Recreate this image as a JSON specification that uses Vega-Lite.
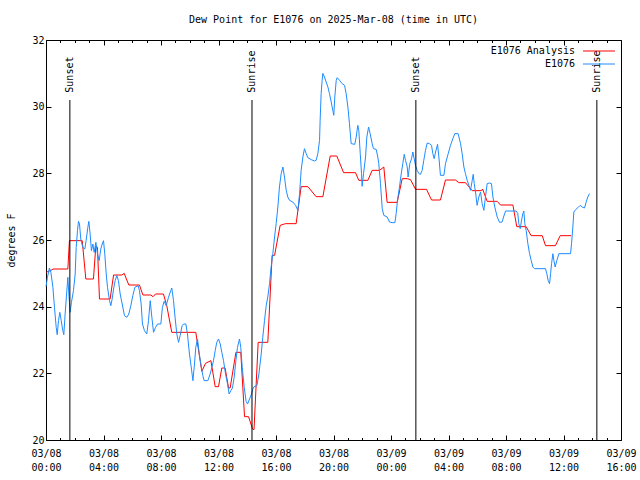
{
  "$schema": "https://vega.github.io/schema/vega-lite/v6.json",
  "width": 575,
  "height": 400,
  "autosize": {"type": "none"},
  "padding": {"left": 46, "top": 40, "right": 19, "bottom": 40},
  "background": "white",
  "config": {
    "view": {"stroke": "black", "strokeWidth": 1},
    "font": "DejaVu Sans Mono",
    "axis": {"domain": false, "grid": false, "tickColor": "black", "labelColor": "black", "labelFont": "DejaVu Sans Mono", "labelFontSize": 10, "titleFont": "DejaVu Sans Mono", "titleFontSize": 10, "titleFontWeight": "normal", "titleColor": "black", "labelFlush": false, "labelOverlap": false, "labelBound": false}
  },
  "title": {"text": "Dew Point for E1076 on 2025-Mar-08 (time in UTC)", "font": "DejaVu Sans Mono", "fontSize": 10, "fontWeight": "normal", "color": "black", "offset": 10, "anchor": "middle"},
  "datasets": {
    "obs": [
      {"hour": 0.0, "dewpoint": 25.03, "series": "E1076 Analysis"},
      {"hour": 0.3, "dewpoint": 25.08, "series": "E1076 Analysis"},
      {"hour": 0.5, "dewpoint": 25.13, "series": "E1076 Analysis"},
      {"hour": 1.52, "dewpoint": 25.13, "series": "E1076 Analysis"},
      {"hour": 1.63, "dewpoint": 25.98, "series": "E1076 Analysis"},
      {"hour": 2.52, "dewpoint": 25.98, "series": "E1076 Analysis"},
      {"hour": 2.77, "dewpoint": 24.83, "series": "E1076 Analysis"},
      {"hour": 3.3, "dewpoint": 24.83, "series": "E1076 Analysis"},
      {"hour": 3.47, "dewpoint": 25.83, "series": "E1076 Analysis"},
      {"hour": 3.58, "dewpoint": 25.78, "series": "E1076 Analysis"},
      {"hour": 3.72, "dewpoint": 24.23, "series": "E1076 Analysis"},
      {"hour": 4.46, "dewpoint": 24.23, "series": "E1076 Analysis"},
      {"hour": 4.7, "dewpoint": 24.95, "series": "E1076 Analysis"},
      {"hour": 5.28, "dewpoint": 24.95, "series": "E1076 Analysis"},
      {"hour": 5.44, "dewpoint": 25.0, "series": "E1076 Analysis"},
      {"hour": 5.76, "dewpoint": 24.65, "series": "E1076 Analysis"},
      {"hour": 6.5, "dewpoint": 24.65, "series": "E1076 Analysis"},
      {"hour": 6.74, "dewpoint": 24.35, "series": "E1076 Analysis"},
      {"hour": 7.29, "dewpoint": 24.35, "series": "E1076 Analysis"},
      {"hour": 7.45, "dewpoint": 24.3, "series": "E1076 Analysis"},
      {"hour": 7.62, "dewpoint": 24.38, "series": "E1076 Analysis"},
      {"hour": 8.17, "dewpoint": 24.38, "series": "E1076 Analysis"},
      {"hour": 8.4, "dewpoint": 24.03, "series": "E1076 Analysis"},
      {"hour": 8.75, "dewpoint": 23.23, "series": "E1076 Analysis"},
      {"hour": 10.42, "dewpoint": 23.23, "series": "E1076 Analysis"},
      {"hour": 10.84, "dewpoint": 22.06, "series": "E1076 Analysis"},
      {"hour": 11.1, "dewpoint": 22.3, "series": "E1076 Analysis"},
      {"hour": 11.47, "dewpoint": 22.38, "series": "E1076 Analysis"},
      {"hour": 11.77, "dewpoint": 21.6, "series": "E1076 Analysis"},
      {"hour": 12.0, "dewpoint": 21.6, "series": "E1076 Analysis"},
      {"hour": 12.23, "dewpoint": 22.16, "series": "E1076 Analysis"},
      {"hour": 12.46, "dewpoint": 22.16, "series": "E1076 Analysis"},
      {"hour": 12.7, "dewpoint": 21.56, "series": "E1076 Analysis"},
      {"hour": 12.81, "dewpoint": 21.56, "series": "E1076 Analysis"},
      {"hour": 13.21, "dewpoint": 22.63, "series": "E1076 Analysis"},
      {"hour": 13.55, "dewpoint": 22.63, "series": "E1076 Analysis"},
      {"hour": 13.81, "dewpoint": 20.7, "series": "E1076 Analysis"},
      {"hour": 14.09, "dewpoint": 20.7, "series": "E1076 Analysis"},
      {"hour": 14.37, "dewpoint": 20.33, "series": "E1076 Analysis"},
      {"hour": 14.47, "dewpoint": 20.31, "series": "E1076 Analysis"},
      {"hour": 14.76, "dewpoint": 22.93, "series": "E1076 Analysis"},
      {"hour": 15.43, "dewpoint": 22.93, "series": "E1076 Analysis"},
      {"hour": 15.73, "dewpoint": 25.54, "series": "E1076 Analysis"},
      {"hour": 15.9, "dewpoint": 25.54, "series": "E1076 Analysis"},
      {"hour": 16.29, "dewpoint": 26.44, "series": "E1076 Analysis"},
      {"hour": 16.66, "dewpoint": 26.49, "series": "E1076 Analysis"},
      {"hour": 17.4, "dewpoint": 26.49, "series": "E1076 Analysis"},
      {"hour": 17.75, "dewpoint": 27.6, "series": "E1076 Analysis"},
      {"hour": 18.22, "dewpoint": 27.6, "series": "E1076 Analysis"},
      {"hour": 18.79, "dewpoint": 27.3, "series": "E1076 Analysis"},
      {"hour": 19.26, "dewpoint": 27.3, "series": "E1076 Analysis"},
      {"hour": 19.77, "dewpoint": 28.52, "series": "E1076 Analysis"},
      {"hour": 20.23, "dewpoint": 28.52, "series": "E1076 Analysis"},
      {"hour": 20.7, "dewpoint": 28.02, "series": "E1076 Analysis"},
      {"hour": 21.53, "dewpoint": 28.02, "series": "E1076 Analysis"},
      {"hour": 21.76, "dewpoint": 27.79, "series": "E1076 Analysis"},
      {"hour": 22.39, "dewpoint": 27.79, "series": "E1076 Analysis"},
      {"hour": 22.69, "dewpoint": 28.09, "series": "E1076 Analysis"},
      {"hour": 23.2, "dewpoint": 28.09, "series": "E1076 Analysis"},
      {"hour": 23.5, "dewpoint": 28.19, "series": "E1076 Analysis"},
      {"hour": 23.73, "dewpoint": 27.13, "series": "E1076 Analysis"},
      {"hour": 24.43, "dewpoint": 27.13, "series": "E1076 Analysis"},
      {"hour": 24.78, "dewpoint": 27.84, "series": "E1076 Analysis"},
      {"hour": 25.13, "dewpoint": 27.84, "series": "E1076 Analysis"},
      {"hour": 25.36, "dewpoint": 27.81, "series": "E1076 Analysis"},
      {"hour": 25.71, "dewpoint": 27.52, "series": "E1076 Analysis"},
      {"hour": 26.47, "dewpoint": 27.52, "series": "E1076 Analysis"},
      {"hour": 26.82, "dewpoint": 27.2, "series": "E1076 Analysis"},
      {"hour": 27.44, "dewpoint": 27.2, "series": "E1076 Analysis"},
      {"hour": 27.79, "dewpoint": 27.8, "series": "E1076 Analysis"},
      {"hour": 28.49, "dewpoint": 27.8, "series": "E1076 Analysis"},
      {"hour": 28.72, "dewpoint": 27.72, "series": "E1076 Analysis"},
      {"hour": 29.18, "dewpoint": 27.72, "series": "E1076 Analysis"},
      {"hour": 29.65, "dewpoint": 27.48, "series": "E1076 Analysis"},
      {"hour": 30.3, "dewpoint": 27.48, "series": "E1076 Analysis"},
      {"hour": 30.37, "dewpoint": 27.53, "series": "E1076 Analysis"},
      {"hour": 30.69, "dewpoint": 27.16, "series": "E1076 Analysis"},
      {"hour": 31.39, "dewpoint": 27.16, "series": "E1076 Analysis"},
      {"hour": 31.62, "dewpoint": 27.05, "series": "E1076 Analysis"},
      {"hour": 32.48, "dewpoint": 27.05, "series": "E1076 Analysis"},
      {"hour": 32.75, "dewpoint": 26.4, "series": "E1076 Analysis"},
      {"hour": 33.4, "dewpoint": 26.4, "series": "E1076 Analysis"},
      {"hour": 33.75, "dewpoint": 26.13, "series": "E1076 Analysis"},
      {"hour": 34.52, "dewpoint": 26.13, "series": "E1076 Analysis"},
      {"hour": 34.75, "dewpoint": 25.83, "series": "E1076 Analysis"},
      {"hour": 35.44, "dewpoint": 25.83, "series": "E1076 Analysis"},
      {"hour": 35.77, "dewpoint": 26.13, "series": "E1076 Analysis"},
      {"hour": 36.53, "dewpoint": 26.13, "series": "E1076 Analysis"},
      {"hour": 0.0, "dewpoint": 24.6, "series": "E1076"},
      {"hour": 0.1, "dewpoint": 24.88, "series": "E1076"},
      {"hour": 0.24, "dewpoint": 25.16, "series": "E1076"},
      {"hour": 0.34, "dewpoint": 25.03, "series": "E1076"},
      {"hour": 0.48, "dewpoint": 24.58, "series": "E1076"},
      {"hour": 0.59, "dewpoint": 23.98, "series": "E1076"},
      {"hour": 0.71, "dewpoint": 23.38, "series": "E1076"},
      {"hour": 0.78, "dewpoint": 23.16, "series": "E1076"},
      {"hour": 0.87, "dewpoint": 23.58, "series": "E1076"},
      {"hour": 0.96, "dewpoint": 23.83, "series": "E1076"},
      {"hour": 1.06, "dewpoint": 23.58, "series": "E1076"},
      {"hour": 1.15, "dewpoint": 23.33, "series": "E1076"},
      {"hour": 1.24, "dewpoint": 23.16, "series": "E1076"},
      {"hour": 1.33, "dewpoint": 23.78, "series": "E1076"},
      {"hour": 1.45, "dewpoint": 24.48, "series": "E1076"},
      {"hour": 1.52, "dewpoint": 24.88, "series": "E1076"},
      {"hour": 1.59, "dewpoint": 24.38, "series": "E1076"},
      {"hour": 1.68, "dewpoint": 23.83, "series": "E1076"},
      {"hour": 1.77, "dewpoint": 24.13, "series": "E1076"},
      {"hour": 1.91, "dewpoint": 24.48, "series": "E1076"},
      {"hour": 2.03, "dewpoint": 24.98, "series": "E1076"},
      {"hour": 2.1, "dewpoint": 25.78, "series": "E1076"},
      {"hour": 2.19, "dewpoint": 26.28, "series": "E1076"},
      {"hour": 2.26, "dewpoint": 26.56, "series": "E1076"},
      {"hour": 2.33, "dewpoint": 26.48, "series": "E1076"},
      {"hour": 2.42, "dewpoint": 26.03, "series": "E1076"},
      {"hour": 2.56, "dewpoint": 25.78, "series": "E1076"},
      {"hour": 2.7, "dewpoint": 25.73, "series": "E1076"},
      {"hour": 2.79, "dewpoint": 25.98, "series": "E1076"},
      {"hour": 2.91, "dewpoint": 26.38, "series": "E1076"},
      {"hour": 2.98, "dewpoint": 26.56, "series": "E1076"},
      {"hour": 3.07, "dewpoint": 26.18, "series": "E1076"},
      {"hour": 3.16, "dewpoint": 25.68, "series": "E1076"},
      {"hour": 3.26, "dewpoint": 25.88, "series": "E1076"},
      {"hour": 3.35, "dewpoint": 25.63, "series": "E1076"},
      {"hour": 3.47, "dewpoint": 25.93, "series": "E1076"},
      {"hour": 3.58, "dewpoint": 25.58, "series": "E1076"},
      {"hour": 3.7, "dewpoint": 25.38, "series": "E1076"},
      {"hour": 3.81, "dewpoint": 25.73, "series": "E1076"},
      {"hour": 3.91, "dewpoint": 25.88, "series": "E1076"},
      {"hour": 4.0, "dewpoint": 25.98, "series": "E1076"},
      {"hour": 4.09, "dewpoint": 25.58, "series": "E1076"},
      {"hour": 4.19, "dewpoint": 24.98, "series": "E1076"},
      {"hour": 4.28, "dewpoint": 24.58, "series": "E1076"},
      {"hour": 4.42, "dewpoint": 24.18, "series": "E1076"},
      {"hour": 4.51, "dewpoint": 24.03, "series": "E1076"},
      {"hour": 4.6, "dewpoint": 24.23, "series": "E1076"},
      {"hour": 4.7, "dewpoint": 24.53, "series": "E1076"},
      {"hour": 4.81, "dewpoint": 24.78, "series": "E1076"},
      {"hour": 4.93, "dewpoint": 24.93, "series": "E1076"},
      {"hour": 5.04, "dewpoint": 24.78, "series": "E1076"},
      {"hour": 5.16, "dewpoint": 24.38, "series": "E1076"},
      {"hour": 5.3, "dewpoint": 24.08, "series": "E1076"},
      {"hour": 5.46, "dewpoint": 23.73, "series": "E1076"},
      {"hour": 5.62, "dewpoint": 23.68, "series": "E1076"},
      {"hour": 5.76, "dewpoint": 23.78, "series": "E1076"},
      {"hour": 5.9, "dewpoint": 24.03, "series": "E1076"},
      {"hour": 6.04, "dewpoint": 24.33, "series": "E1076"},
      {"hour": 6.18, "dewpoint": 24.58, "series": "E1076"},
      {"hour": 6.41, "dewpoint": 24.63, "series": "E1076"},
      {"hour": 6.5, "dewpoint": 24.48, "series": "E1076"},
      {"hour": 6.62, "dewpoint": 24.08, "series": "E1076"},
      {"hour": 6.71, "dewpoint": 23.48, "series": "E1076"},
      {"hour": 6.85, "dewpoint": 23.28, "series": "E1076"},
      {"hour": 7.01, "dewpoint": 23.18, "series": "E1076"},
      {"hour": 7.13, "dewpoint": 23.58, "series": "E1076"},
      {"hour": 7.25, "dewpoint": 24.18, "series": "E1076"},
      {"hour": 7.34, "dewpoint": 23.78, "series": "E1076"},
      {"hour": 7.48, "dewpoint": 23.23, "series": "E1076"},
      {"hour": 7.62, "dewpoint": 23.38, "series": "E1076"},
      {"hour": 7.76, "dewpoint": 23.48, "series": "E1076"},
      {"hour": 7.99, "dewpoint": 23.48, "series": "E1076"},
      {"hour": 8.1, "dewpoint": 23.98, "series": "E1076"},
      {"hour": 8.22, "dewpoint": 24.16, "series": "E1076"},
      {"hour": 8.36, "dewpoint": 24.03, "series": "E1076"},
      {"hour": 8.52, "dewpoint": 24.28, "series": "E1076"},
      {"hour": 8.68, "dewpoint": 24.48, "series": "E1076"},
      {"hour": 8.75, "dewpoint": 24.56, "series": "E1076"},
      {"hour": 8.87, "dewpoint": 24.18, "series": "E1076"},
      {"hour": 8.99, "dewpoint": 23.63, "series": "E1076"},
      {"hour": 9.1, "dewpoint": 23.18, "series": "E1076"},
      {"hour": 9.22, "dewpoint": 22.93, "series": "E1076"},
      {"hour": 9.33, "dewpoint": 23.13, "series": "E1076"},
      {"hour": 9.47, "dewpoint": 23.43, "series": "E1076"},
      {"hour": 9.57, "dewpoint": 23.48, "series": "E1076"},
      {"hour": 9.73, "dewpoint": 23.48, "series": "E1076"},
      {"hour": 9.84, "dewpoint": 23.18, "series": "E1076"},
      {"hour": 9.98, "dewpoint": 22.58, "series": "E1076"},
      {"hour": 10.12, "dewpoint": 22.13, "series": "E1076"},
      {"hour": 10.22, "dewpoint": 21.78, "series": "E1076"},
      {"hour": 10.33, "dewpoint": 22.28, "series": "E1076"},
      {"hour": 10.42, "dewpoint": 22.78, "series": "E1076"},
      {"hour": 10.54, "dewpoint": 23.03, "series": "E1076"},
      {"hour": 10.65, "dewpoint": 22.63, "series": "E1076"},
      {"hour": 10.77, "dewpoint": 22.28, "series": "E1076"},
      {"hour": 10.91, "dewpoint": 21.93, "series": "E1076"},
      {"hour": 11.0, "dewpoint": 21.78, "series": "E1076"},
      {"hour": 11.26, "dewpoint": 21.78, "series": "E1076"},
      {"hour": 11.42, "dewpoint": 21.98, "series": "E1076"},
      {"hour": 11.54, "dewpoint": 22.18, "series": "E1076"},
      {"hour": 11.65, "dewpoint": 22.38, "series": "E1076"},
      {"hour": 11.77, "dewpoint": 22.68, "series": "E1076"},
      {"hour": 11.88, "dewpoint": 22.93, "series": "E1076"},
      {"hour": 12.0, "dewpoint": 23.03, "series": "E1076"},
      {"hour": 12.12, "dewpoint": 22.88, "series": "E1076"},
      {"hour": 12.23, "dewpoint": 22.63, "series": "E1076"},
      {"hour": 12.35, "dewpoint": 22.38, "series": "E1076"},
      {"hour": 12.49, "dewpoint": 21.98, "series": "E1076"},
      {"hour": 12.63, "dewpoint": 21.68, "series": "E1076"},
      {"hour": 12.74, "dewpoint": 21.38, "series": "E1076"},
      {"hour": 12.86, "dewpoint": 21.48, "series": "E1076"},
      {"hour": 12.97, "dewpoint": 21.56, "series": "E1076"},
      {"hour": 13.09, "dewpoint": 21.88, "series": "E1076"},
      {"hour": 13.21, "dewpoint": 22.38, "series": "E1076"},
      {"hour": 13.32, "dewpoint": 22.78, "series": "E1076"},
      {"hour": 13.46, "dewpoint": 23.03, "series": "E1076"},
      {"hour": 13.55, "dewpoint": 22.78, "series": "E1076"},
      {"hour": 13.65, "dewpoint": 22.18, "series": "E1076"},
      {"hour": 13.79, "dewpoint": 21.58, "series": "E1076"},
      {"hour": 13.92, "dewpoint": 21.16, "series": "E1076"},
      {"hour": 14.02, "dewpoint": 21.08, "series": "E1076"},
      {"hour": 14.16, "dewpoint": 21.23, "series": "E1076"},
      {"hour": 14.3, "dewpoint": 21.38, "series": "E1076"},
      {"hour": 14.39, "dewpoint": 21.53, "series": "E1076"},
      {"hour": 14.48, "dewpoint": 21.6, "series": "E1076"},
      {"hour": 14.67, "dewpoint": 21.63, "series": "E1076"},
      {"hour": 14.81, "dewpoint": 21.98, "series": "E1076"},
      {"hour": 14.97, "dewpoint": 22.58, "series": "E1076"},
      {"hour": 15.08, "dewpoint": 23.08, "series": "E1076"},
      {"hour": 15.2, "dewpoint": 23.58, "series": "E1076"},
      {"hour": 15.32, "dewpoint": 24.04, "series": "E1076"},
      {"hour": 15.43, "dewpoint": 24.29, "series": "E1076"},
      {"hour": 15.55, "dewpoint": 24.69, "series": "E1076"},
      {"hour": 15.66, "dewpoint": 25.19, "series": "E1076"},
      {"hour": 15.78, "dewpoint": 25.59, "series": "E1076"},
      {"hour": 15.9, "dewpoint": 26.09, "series": "E1076"},
      {"hour": 16.01, "dewpoint": 26.49, "series": "E1076"},
      {"hour": 16.13, "dewpoint": 26.99, "series": "E1076"},
      {"hour": 16.24, "dewpoint": 27.59, "series": "E1076"},
      {"hour": 16.36, "dewpoint": 27.99, "series": "E1076"},
      {"hour": 16.48, "dewpoint": 28.19, "series": "E1076"},
      {"hour": 16.59, "dewpoint": 27.89, "series": "E1076"},
      {"hour": 16.71, "dewpoint": 27.49, "series": "E1076"},
      {"hour": 16.82, "dewpoint": 27.29, "series": "E1076"},
      {"hour": 16.94, "dewpoint": 27.19, "series": "E1076"},
      {"hour": 17.17, "dewpoint": 27.14, "series": "E1076"},
      {"hour": 17.36, "dewpoint": 27.04, "series": "E1076"},
      {"hour": 17.52, "dewpoint": 26.89, "series": "E1076"},
      {"hour": 17.64, "dewpoint": 27.39, "series": "E1076"},
      {"hour": 17.75, "dewpoint": 28.09, "series": "E1076"},
      {"hour": 17.87, "dewpoint": 28.49, "series": "E1076"},
      {"hour": 17.98, "dewpoint": 28.74, "series": "E1076"},
      {"hour": 18.1, "dewpoint": 28.59, "series": "E1076"},
      {"hour": 18.21, "dewpoint": 28.47, "series": "E1076"},
      {"hour": 18.45, "dewpoint": 28.41, "series": "E1076"},
      {"hour": 18.68, "dewpoint": 28.37, "series": "E1076"},
      {"hour": 18.79, "dewpoint": 28.39, "series": "E1076"},
      {"hour": 18.91, "dewpoint": 28.59, "series": "E1076"},
      {"hour": 19.03, "dewpoint": 28.99, "series": "E1076"},
      {"hour": 19.07, "dewpoint": 29.59, "series": "E1076"},
      {"hour": 19.14, "dewpoint": 30.39, "series": "E1076"},
      {"hour": 19.21, "dewpoint": 30.79, "series": "E1076"},
      {"hour": 19.26, "dewpoint": 31.0, "series": "E1076"},
      {"hour": 19.37, "dewpoint": 30.89, "series": "E1076"},
      {"hour": 19.49, "dewpoint": 30.74, "series": "E1076"},
      {"hour": 19.61, "dewpoint": 30.59, "series": "E1076"},
      {"hour": 19.72, "dewpoint": 30.39, "series": "E1076"},
      {"hour": 19.84, "dewpoint": 30.14, "series": "E1076"},
      {"hour": 19.95, "dewpoint": 29.89, "series": "E1076"},
      {"hour": 20.02, "dewpoint": 29.74, "series": "E1076"},
      {"hour": 20.09, "dewpoint": 30.29, "series": "E1076"},
      {"hour": 20.19, "dewpoint": 30.79, "series": "E1076"},
      {"hour": 20.26, "dewpoint": 30.87, "series": "E1076"},
      {"hour": 20.42, "dewpoint": 30.79, "series": "E1076"},
      {"hour": 20.6, "dewpoint": 30.69, "series": "E1076"},
      {"hour": 20.77, "dewpoint": 30.64, "series": "E1076"},
      {"hour": 20.88, "dewpoint": 30.39, "series": "E1076"},
      {"hour": 21.0, "dewpoint": 29.99, "series": "E1076"},
      {"hour": 21.11, "dewpoint": 29.49, "series": "E1076"},
      {"hour": 21.23, "dewpoint": 28.89, "series": "E1076"},
      {"hour": 21.48, "dewpoint": 28.87, "series": "E1076"},
      {"hour": 21.58, "dewpoint": 29.09, "series": "E1076"},
      {"hour": 21.69, "dewpoint": 29.44, "series": "E1076"},
      {"hour": 21.76, "dewpoint": 29.29, "series": "E1076"},
      {"hour": 21.86, "dewpoint": 28.59, "series": "E1076"},
      {"hour": 21.95, "dewpoint": 27.99, "series": "E1076"},
      {"hour": 21.99, "dewpoint": 27.61, "series": "E1076"},
      {"hour": 22.09, "dewpoint": 27.99, "series": "E1076"},
      {"hour": 22.23, "dewpoint": 28.49, "series": "E1076"},
      {"hour": 22.32, "dewpoint": 29.09, "series": "E1076"},
      {"hour": 22.44, "dewpoint": 29.39, "series": "E1076"},
      {"hour": 22.55, "dewpoint": 29.19, "series": "E1076"},
      {"hour": 22.69, "dewpoint": 28.89, "series": "E1076"},
      {"hour": 22.78, "dewpoint": 28.74, "series": "E1076"},
      {"hour": 22.97, "dewpoint": 28.72, "series": "E1076"},
      {"hour": 23.08, "dewpoint": 28.49, "series": "E1076"},
      {"hour": 23.15, "dewpoint": 28.29, "series": "E1076"},
      {"hour": 23.27, "dewpoint": 27.69, "series": "E1076"},
      {"hour": 23.39, "dewpoint": 26.94, "series": "E1076"},
      {"hour": 23.5, "dewpoint": 26.74, "series": "E1076"},
      {"hour": 23.73, "dewpoint": 26.69, "series": "E1076"},
      {"hour": 23.9, "dewpoint": 26.54, "series": "E1076"},
      {"hour": 24.08, "dewpoint": 26.52, "series": "E1076"},
      {"hour": 24.27, "dewpoint": 26.52, "series": "E1076"},
      {"hour": 24.36, "dewpoint": 26.79, "series": "E1076"},
      {"hour": 24.45, "dewpoint": 27.19, "series": "E1076"},
      {"hour": 24.59, "dewpoint": 27.59, "series": "E1076"},
      {"hour": 24.68, "dewpoint": 27.89, "series": "E1076"},
      {"hour": 24.82, "dewpoint": 28.29, "series": "E1076"},
      {"hour": 24.92, "dewpoint": 28.57, "series": "E1076"},
      {"hour": 25.01, "dewpoint": 28.39, "series": "E1076"},
      {"hour": 25.13, "dewpoint": 28.19, "series": "E1076"},
      {"hour": 25.19, "dewpoint": 27.89, "series": "E1076"},
      {"hour": 25.31, "dewpoint": 28.29, "series": "E1076"},
      {"hour": 25.43, "dewpoint": 28.44, "series": "E1076"},
      {"hour": 25.52, "dewpoint": 28.64, "series": "E1076"},
      {"hour": 25.59, "dewpoint": 28.49, "series": "E1076"},
      {"hour": 25.7, "dewpoint": 28.24, "series": "E1076"},
      {"hour": 25.82, "dewpoint": 28.09, "series": "E1076"},
      {"hour": 25.94, "dewpoint": 27.99, "series": "E1076"},
      {"hour": 26.05, "dewpoint": 27.97, "series": "E1076"},
      {"hour": 26.17, "dewpoint": 28.09, "series": "E1076"},
      {"hour": 26.28, "dewpoint": 28.39, "series": "E1076"},
      {"hour": 26.4, "dewpoint": 28.69, "series": "E1076"},
      {"hour": 26.52, "dewpoint": 28.91, "series": "E1076"},
      {"hour": 26.68, "dewpoint": 28.89, "series": "E1076"},
      {"hour": 26.82, "dewpoint": 28.84, "series": "E1076"},
      {"hour": 26.91, "dewpoint": 28.59, "series": "E1076"},
      {"hour": 27.0, "dewpoint": 28.44, "series": "E1076"},
      {"hour": 27.1, "dewpoint": 28.64, "series": "E1076"},
      {"hour": 27.24, "dewpoint": 28.87, "series": "E1076"},
      {"hour": 27.33, "dewpoint": 28.49, "series": "E1076"},
      {"hour": 27.44, "dewpoint": 27.94, "series": "E1076"},
      {"hour": 27.68, "dewpoint": 27.94, "series": "E1076"},
      {"hour": 27.79, "dewpoint": 28.29, "series": "E1076"},
      {"hour": 27.98, "dewpoint": 28.59, "series": "E1076"},
      {"hour": 28.14, "dewpoint": 28.84, "series": "E1076"},
      {"hour": 28.3, "dewpoint": 29.04, "series": "E1076"},
      {"hour": 28.44, "dewpoint": 29.19, "series": "E1076"},
      {"hour": 28.67, "dewpoint": 29.19, "series": "E1076"},
      {"hour": 28.84, "dewpoint": 28.89, "series": "E1076"},
      {"hour": 28.95, "dewpoint": 28.59, "series": "E1076"},
      {"hour": 29.07, "dewpoint": 28.19, "series": "E1076"},
      {"hour": 29.18, "dewpoint": 27.99, "series": "E1076"},
      {"hour": 29.3, "dewpoint": 27.79, "series": "E1076"},
      {"hour": 29.42, "dewpoint": 27.64, "series": "E1076"},
      {"hour": 29.53, "dewpoint": 27.49, "series": "E1076"},
      {"hour": 29.65, "dewpoint": 27.79, "series": "E1076"},
      {"hour": 29.72, "dewpoint": 27.97, "series": "E1076"},
      {"hour": 29.79, "dewpoint": 27.69, "series": "E1076"},
      {"hour": 29.88, "dewpoint": 27.44, "series": "E1076"},
      {"hour": 29.99, "dewpoint": 27.04, "series": "E1076"},
      {"hour": 30.11, "dewpoint": 27.29, "series": "E1076"},
      {"hour": 30.23, "dewpoint": 27.44, "series": "E1076"},
      {"hour": 30.34, "dewpoint": 27.09, "series": "E1076"},
      {"hour": 30.46, "dewpoint": 26.89, "series": "E1076"},
      {"hour": 30.57, "dewpoint": 27.29, "series": "E1076"},
      {"hour": 30.69, "dewpoint": 27.69, "series": "E1076"},
      {"hour": 30.85, "dewpoint": 27.71, "series": "E1076"},
      {"hour": 30.99, "dewpoint": 27.69, "series": "E1076"},
      {"hour": 31.09, "dewpoint": 27.29, "series": "E1076"},
      {"hour": 31.22, "dewpoint": 26.99, "series": "E1076"},
      {"hour": 31.39, "dewpoint": 26.69, "series": "E1076"},
      {"hour": 31.55, "dewpoint": 26.53, "series": "E1076"},
      {"hour": 31.73, "dewpoint": 26.54, "series": "E1076"},
      {"hour": 31.83, "dewpoint": 26.69, "series": "E1076"},
      {"hour": 31.97, "dewpoint": 26.87, "series": "E1076"},
      {"hour": 32.71, "dewpoint": 26.87, "series": "E1076"},
      {"hour": 32.82, "dewpoint": 26.79, "series": "E1076"},
      {"hour": 32.89, "dewpoint": 26.49, "series": "E1076"},
      {"hour": 32.99, "dewpoint": 26.34, "series": "E1076"},
      {"hour": 33.06, "dewpoint": 26.54, "series": "E1076"},
      {"hour": 33.17, "dewpoint": 26.79, "series": "E1076"},
      {"hour": 33.24, "dewpoint": 26.87, "series": "E1076"},
      {"hour": 33.31, "dewpoint": 26.49, "series": "E1076"},
      {"hour": 33.4, "dewpoint": 26.29, "series": "E1076"},
      {"hour": 33.52, "dewpoint": 25.89, "series": "E1076"},
      {"hour": 33.64, "dewpoint": 25.59, "series": "E1076"},
      {"hour": 33.75, "dewpoint": 25.39, "series": "E1076"},
      {"hour": 33.87, "dewpoint": 25.19, "series": "E1076"},
      {"hour": 33.98, "dewpoint": 25.14, "series": "E1076"},
      {"hour": 34.75, "dewpoint": 25.14, "series": "E1076"},
      {"hour": 34.84, "dewpoint": 24.99, "series": "E1076"},
      {"hour": 34.93, "dewpoint": 24.79, "series": "E1076"},
      {"hour": 35.03, "dewpoint": 24.69, "series": "E1076"},
      {"hour": 35.1, "dewpoint": 24.99, "series": "E1076"},
      {"hour": 35.17, "dewpoint": 25.29, "series": "E1076"},
      {"hour": 35.26, "dewpoint": 25.59, "series": "E1076"},
      {"hour": 35.33, "dewpoint": 25.39, "series": "E1076"},
      {"hour": 35.42, "dewpoint": 25.19, "series": "E1076"},
      {"hour": 35.54, "dewpoint": 25.39, "series": "E1076"},
      {"hour": 35.68, "dewpoint": 25.59, "series": "E1076"},
      {"hour": 36.49, "dewpoint": 25.59, "series": "E1076"},
      {"hour": 36.56, "dewpoint": 25.89, "series": "E1076"},
      {"hour": 36.65, "dewpoint": 26.39, "series": "E1076"},
      {"hour": 36.72, "dewpoint": 26.84, "series": "E1076"},
      {"hour": 36.84, "dewpoint": 26.91, "series": "E1076"},
      {"hour": 37.0, "dewpoint": 26.97, "series": "E1076"},
      {"hour": 37.16, "dewpoint": 27.04, "series": "E1076"},
      {"hour": 37.3, "dewpoint": 26.99, "series": "E1076"},
      {"hour": 37.46, "dewpoint": 26.96, "series": "E1076"},
      {"hour": 37.58, "dewpoint": 27.14, "series": "E1076"},
      {"hour": 37.69, "dewpoint": 27.29, "series": "E1076"},
      {"hour": 37.81, "dewpoint": 27.39, "series": "E1076"}
    ],
    "sun": [
      {"event": "Sunset", "hour": 1.66},
      {"event": "Sunrise", "hour": 14.33},
      {"event": "Sunset", "hour": 25.73},
      {"event": "Sunrise", "hour": 38.32}
    ]
  },
  "layer": [
    {
      "data": {"name": "obs"},
      "mark": {"type": "line", "strokeWidth": 1},
      "encoding": {
        "x": {
          "field": "hour", "type": "quantitative",
          "scale": {"domain": [0, 40], "nice": false, "zero": false},
          "axis": {
            "orient": "bottom", "title": null,
            "values": [0,1,2,3,4,5,6,7,8,9,10,11,12,13,14,15,16,17,18,19,20,21,22,23,24,25,26,27,28,29,30,31,32,33,34,35,36,37,38,39,40],
            "tickSize": {"condition": {"test": "datum.value % 4 === 0", "value": -5}, "value": -2.5},
            "labelPadding": 13, "labelLineHeight": 14, "labelBaseline": "top",
            "labelExpr": "datum.value % 4 === 0 ? [datum.value < 24 ? '03/08' : '03/09', (datum.value % 24 < 10 ? '0' : '') + (datum.value % 24) + ':00'] : ''"
          }
        },
        "y": {
          "field": "dewpoint", "type": "quantitative",
          "scale": {"domain": [20, 32], "nice": false, "zero": false},
          "axis": {"orient": "left", "title": "degrees F", "values": [20, 22, 24, 26, 28, 30, 32], "tickSize": -5, "labelPadding": 7, "titlePadding": 15}
        },
        "color": {
          "field": "series", "type": "nominal",
          "scale": {"domain": ["E1076 Analysis", "E1076"], "range": ["#ff0000", "#1e8cff"]},
          "legend": {"orient": "none", "legendX": 548, "legendY": 6, "title": null, "symbolType": "M-8,0H8", "symbolSize": 16, "symbolStrokeWidth": 1, "labelAlign": "right", "labelOffset": -29, "labelFont": "DejaVu Sans Mono", "labelFontSize": 10, "labelColor": "black", "padding": 0, "rowPadding": 3}
        }
      }
    },
    {
      "data": {"name": "sun"},
      "mark": {"type": "rule", "color": "black", "strokeWidth": 1},
      "encoding": {
        "x": {
          "field": "hour", "type": "quantitative",
          "scale": {"domain": [0, 40], "nice": false, "zero": false},
          "axis": {
            "orient": "top", "title": null, "labels": false,
            "values": [0,1,2,3,4,5,6,7,8,9,10,11,12,13,14,15,16,17,18,19,20,21,22,23,24,25,26,27,28,29,30,31,32,33,34,35,36,37,38,39,40],
            "tickSize": {"condition": {"test": "datum.value % 4 === 0", "value": -5}, "value": -2.5}
          }
        },
        "y": {"datum": 30.2, "type": "quantitative", "scale": {"domain": [20, 32], "nice": false, "zero": false},
              "axis": {"orient": "right", "title": null, "labels": false, "values": [20, 22, 24, 26, 28, 30, 32], "tickSize": -5}},
        "y2": {"datum": 20}
      }
    },
    {
      "data": {"name": "sun"},
      "mark": {"type": "text", "angle": 270, "align": "left", "baseline": "middle", "font": "DejaVu Sans Mono", "fontSize": 10, "color": "black"},
      "encoding": {
        "x": {"field": "hour", "type": "quantitative", "scale": {"domain": [0, 40], "nice": false, "zero": false}, "axis": null},
        "y": {"datum": 30.42, "type": "quantitative", "scale": {"domain": [20, 32], "nice": false, "zero": false}, "axis": null},
        "text": {"field": "event"}
      }
    }
  ],
  "resolve": {"axis": {"x": "independent", "y": "independent"}}
}
